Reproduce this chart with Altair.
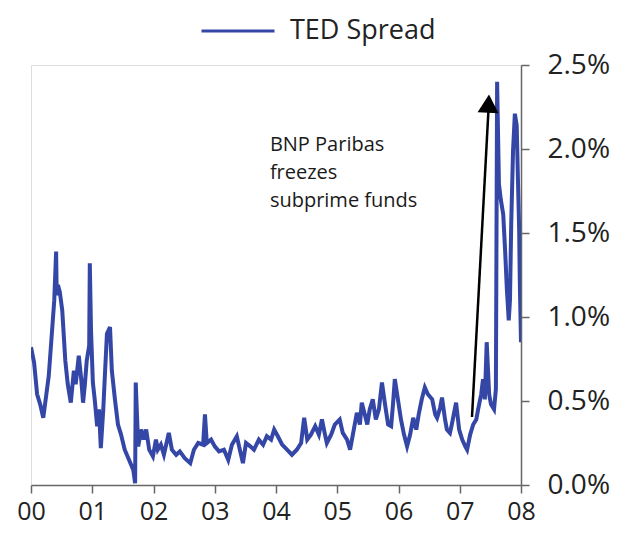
import altair as alt
import pandas as pd

# TED spread (%) (decimal years)
years = [
    2000.00, 2000.05, 2000.10, 2000.15, 2000.20, 2000.24, 2000.29, 2000.34, 2000.38, 2000.41,
    2000.42, 2000.44, 2000.47, 2000.51, 2000.56, 2000.60, 2000.65, 2000.70, 2000.73, 2000.78,
    2000.82, 2000.85, 2000.88, 2000.91, 2000.95, 2000.96, 2000.98, 2001.01, 2001.04, 2001.08,
    2001.11, 2001.14, 2001.18, 2001.21, 2001.24, 2001.29, 2001.32, 2001.37, 2001.42, 2001.47,
    2001.53, 2001.60, 2001.67, 2001.70, 2001.71, 2001.75, 2001.80, 2001.84, 2001.88, 2001.93,
    2001.99, 2002.04, 2002.07, 2002.12, 2002.17, 2002.25, 2002.30, 2002.37, 2002.43, 2002.51,
    2002.60, 2002.66, 2002.73, 2002.81, 2002.84, 2002.87, 2002.94, 2003.00, 2003.07, 2003.15,
    2003.22, 2003.28, 2003.36, 2003.41, 2003.46, 2003.51, 2003.58, 2003.64, 2003.72, 2003.79,
    2003.85, 2003.92, 2003.97, 2004.03, 2004.10, 2004.18, 2004.26, 2004.34, 2004.41, 2004.46,
    2004.51, 2004.57, 2004.64, 2004.70, 2004.75, 2004.80, 2004.83, 2004.90, 2004.96, 2005.04,
    2005.09, 2005.16, 2005.21, 2005.27, 2005.32, 2005.37, 2005.40, 2005.45, 2005.49, 2005.53,
    2005.58, 2005.63, 2005.68, 2005.73, 2005.78, 2005.83, 2005.88, 2005.91, 2005.94, 2005.99,
    2006.04, 2006.09, 2006.14, 2006.19, 2006.24, 2006.29, 2006.33, 2006.38, 2006.43, 2006.48,
    2006.55, 2006.60, 2006.63, 2006.68, 2006.71, 2006.76, 2006.79, 2006.84, 2006.87, 2006.94,
    2006.99, 2007.04, 2007.09, 2007.12, 2007.17, 2007.22, 2007.27, 2007.30, 2007.35, 2007.38,
    2007.41, 2007.44, 2007.48, 2007.51, 2007.56, 2007.59, 2007.61, 2007.64, 2007.67, 2007.71,
    2007.74, 2007.77, 2007.80, 2007.82, 2007.84, 2007.87, 2007.90, 2007.93, 2007.95, 2007.97,
    2007.98, 2008.00,
]
ted = [
    0.82, 0.73, 0.54, 0.48, 0.40, 0.51, 0.65, 0.90, 1.10, 1.39,
    1.13, 1.19, 1.15, 1.04, 0.74, 0.60, 0.49, 0.68, 0.60, 0.77,
    0.63, 0.49, 0.60, 0.74, 0.83, 1.32, 0.92, 0.61, 0.51, 0.35,
    0.45, 0.22, 0.45, 0.68, 0.90, 0.94, 0.68, 0.51, 0.36, 0.30,
    0.21, 0.15, 0.09, 0.01, 0.61, 0.23, 0.33, 0.27, 0.33, 0.21,
    0.17, 0.27, 0.21, 0.24, 0.18, 0.31, 0.21, 0.18, 0.20, 0.16,
    0.13, 0.21, 0.25, 0.24, 0.42, 0.25, 0.27, 0.23, 0.20, 0.21,
    0.15, 0.24, 0.29, 0.21, 0.13, 0.25, 0.23, 0.21, 0.27, 0.24,
    0.29, 0.27, 0.33, 0.29, 0.24, 0.21, 0.18, 0.21, 0.25, 0.40,
    0.27, 0.30, 0.35, 0.30, 0.39, 0.30, 0.25, 0.30, 0.36, 0.39,
    0.31, 0.27, 0.21, 0.33, 0.43, 0.36, 0.49, 0.42, 0.36, 0.45,
    0.51, 0.39, 0.45, 0.61, 0.48, 0.36, 0.35, 0.48, 0.63, 0.51,
    0.39, 0.30, 0.23, 0.30, 0.40, 0.33, 0.42, 0.51, 0.58, 0.54,
    0.51, 0.42, 0.40, 0.46, 0.52, 0.39, 0.33, 0.31, 0.36, 0.49,
    0.33, 0.27, 0.23, 0.21, 0.30, 0.36, 0.39, 0.45, 0.54, 0.63,
    0.51, 0.85, 0.54, 0.48, 0.45, 0.57, 2.40, 1.79, 1.70, 1.61,
    1.40, 1.16, 0.98, 1.10, 1.55, 1.99, 2.21, 2.14, 1.82, 1.52,
    1.22, 0.85,
]

series_name = "TED Spread"
x_ticks = [2000, 2001, 2002, 2003, 2004, 2005, 2006, 2007, 2008]
y_ticks = [0.0, 0.5, 1.0, 1.5, 2.0, 2.5]

note_lines = ["BNP Paribas", "freezes", "subprime funds"]
note_pos = {"x": 2003.90, "y": 1.99}
arrow = {"x": 2007.20, "y": 0.405, "x2": 2007.47, "y2": 2.24}
arrow_head = {"x": 2007.47, "y": 2.27}

FONT = "Open Sans"
LINE_COLOR = "#3447a6"
AXIS_COLOR = "#666666"

df = pd.DataFrame({"year": years, "ted": ted, "series": series_name})

x_scale = alt.Scale(domain=[2000, 2008], nice=False, zero=False)
y_scale = alt.Scale(domain=[0, 2.5], nice=False)

x_axis = alt.Axis(
    values=x_ticks, title=None, grid=False,
    labelExpr="substring(toString(datum.value), 2, 4)",
    labelFlush=False, labelOverlap=False,
    tickSize=8, tickColor=AXIS_COLOR, domainColor=AXIS_COLOR, domainWidth=1.5, tickWidth=1.5,
    labelFontSize=25, labelFont=FONT, labelColor="#222222", labelPadding=6,
)
y_axis = alt.Axis(
    values=y_ticks, title=None, grid=False, orient="right",
    labelExpr="format(datum.value, '.1f') + '%'",
    labelFlush=False, labelOverlap=False,
    tickSize=8, tickColor=AXIS_COLOR, domainColor=AXIS_COLOR, domainWidth=1.5, tickWidth=1.5,
    labelFontSize=28, labelFont=FONT, labelColor="#222222", labelPadding=18,
)

line = alt.Chart(df).mark_line(strokeWidth=4, clip=True, strokeJoin="miter").encode(
    x=alt.X("year:Q", scale=x_scale, axis=x_axis),
    y=alt.Y("ted:Q", scale=y_scale, axis=y_axis),
    color=alt.Color(
        "series:N",
        scale=alt.Scale(domain=[series_name], range=[LINE_COLOR]),
        legend=alt.Legend(
            title=None, orient="none", legendX=169, legendY=-72,
            symbolType="stroke", symbolSize=5329, symbolStrokeWidth=3,
            labelFontSize=27, labelFont=FONT, labelColor="#222222",
            labelOffset=14, padding=0,
        ),
    ),
)

note_df = pd.DataFrame({"x": [note_pos["x"]], "y": [note_pos["y"]], "t": [note_lines]})
note = alt.Chart(note_df).mark_text(
    align="left", baseline="alphabetic", fontSize=20, font=FONT,
    color="#1a1a1a", lineHeight=28,
).encode(x="x:Q", y="y:Q", text="t")

arrow_df = pd.DataFrame([arrow])
arrow_line = alt.Chart(arrow_df).mark_rule(color="black", strokeWidth=2.5).encode(
    x="x:Q", y="y:Q", x2="x2:Q", y2="y2:Q"
)
head_df = pd.DataFrame([arrow_head])
arrow_tip = alt.Chart(head_df).mark_point(
    shape="triangle-up", size=441, angle=3, filled=True, color="black", opacity=1
).encode(x="x:Q", y="y:Q")

chart = alt.layer(line, note, arrow_line, arrow_tip).properties(
    width=490, height=420,
    autosize=alt.AutoSizeParams(type="none"),
    padding={"left": 23, "top": 57, "right": 90, "bottom": 43},
).configure_view(stroke=AXIS_COLOR, strokeWidth=1.5).configure(background="white")

chart.save("out.html", embed_options={"renderer": "svg", "actions": False})
